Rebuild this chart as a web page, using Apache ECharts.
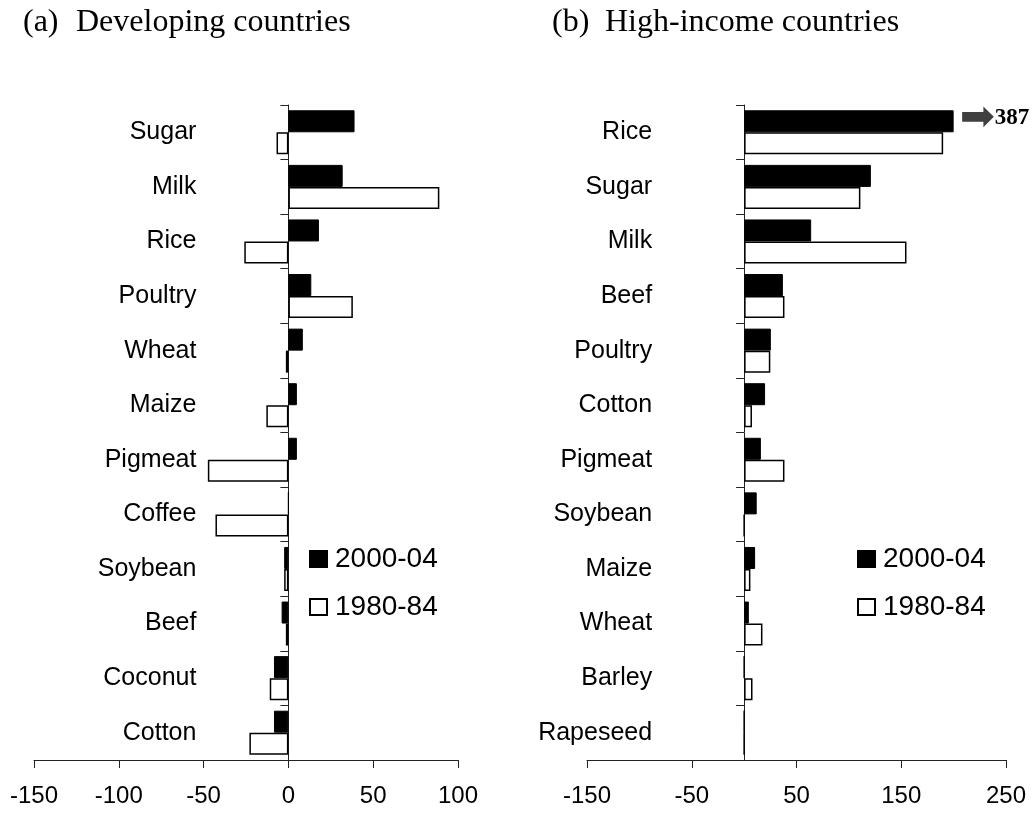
<!DOCTYPE html>
<html>
<head>
<meta charset="utf-8">
<script src="https://cdn.jsdelivr.net/npm/echarts@6/dist/echarts.min.js"></script>
<style>
html,body{margin:0;padding:0;background:#fff;}
#chart{width:1034px;height:813px;}
</style>
</head>
<body>
<div id="chart"></div>
<script>
// ---- Data ----
const seriesNames = ['2000-04', '1980-84'];

const devCategories = ['Sugar','Milk','Rice','Poultry','Wheat','Maize','Pigmeat','Coffee','Soybean','Beef','Coconut','Cotton'];
const dev2000 = [39, 32, 18, 13.5, 8.5, 5, 5, 0, -2.5, -4, -8.5, -8.5];
const dev1980 = [-7, 89, -26, 38, -1.5, -13, -47.5, -43, -2.5, -1.5, -11, -23];

const hiCategories = ['Rice','Sugar','Milk','Beef','Poultry','Cotton','Pigmeat','Soybean','Maize','Wheat','Barley','Rapeseed'];
const hi2000 = [387, 121, 64, 37, 25.5, 20, 16, 12, 10.5, 4.5, 0, 0];
const hi1980 = [190, 111, 155, 38.5, 25, 7.5, 38.5, 0, 6, 17.5, 8, 0];
const hiCap = 200; // bars beyond this are drawn truncated with an arrow and the true value

const devTicks = {min: -150, max: 100, interval: 50};
const hiTicks = {min: -150, max: 250, interval: 100};

// ---- Layout ----
const W = 1034;
const grids = [
  {left: 34, right: 576, top: 105, bottom: 53},
  {left: 587, right: 28, top: 105, bottom: 53}
];

// ---- Chart ----
const sans = 'Liberation Sans, Arial, sans-serif';
const serif = 'Liberation Serif, Times New Roman, serif';
const chart = echarts.init(document.getElementById('chart'), null, {renderer: 'canvas'});

function zeroOffset(g, t) {
  const width = W - g.left - g.right;
  return -width * (0 - t.min) / (t.max - t.min);
}

function xAxisFor(idx, t) {
  return {
    type: 'value', gridIndex: idx, min: t.min, max: t.max, interval: t.interval,
    axisLine: {show: true, lineStyle: {color: '#222', width: 1}},
    axisTick: {show: true, length: 8, lineStyle: {color: '#222', width: 1}},
    axisLabel: {fontSize: 24, color: '#000', fontFamily: sans, margin: 24},
    splitLine: {show: false}
  };
}
function yAxisFor(idx, cats, t) {
  return {
    type: 'category', gridIndex: idx, data: cats, inverse: true,
    position: 'left', offset: zeroOffset(grids[idx], t),
    axisLine: {show: true, onZero: false, lineStyle: {color: '#222', width: 1}},
    axisTick: {show: true, length: 8, alignWithLabel: false, lineStyle: {color: '#222', width: 1}},
    axisLabel: {fontSize: 25, color: '#000', fontFamily: sans, margin: 92}
  };
}
const blackStyle = {color: '#000', borderColor: '#000', borderWidth: 1};
const whiteStyle = {color: '#fff', borderColor: '#000', borderWidth: 1.5};

const hi2000Data = hi2000.map(v => ({value: Math.min(v, hiCap), actual: v}));
const titleStyle = {fontFamily: serif, fontSize: 32, fontWeight: 'normal', color: '#000'};
const legendText = {fontSize: 28, fontFamily: sans, color: '#000', lineHeight: 28, padding: [0,0,0,3]};

const option = {
  backgroundColor: '#fff',
  animation: false,
  title: [
    {text: '(a)', left: 23, top: 7, padding: 0, textStyle: titleStyle},
    {text: 'Developing countries', left: 76, top: 7, padding: 0, textStyle: titleStyle},
    {text: '(b)', left: 552, top: 7, padding: 0, textStyle: titleStyle},
    {text: 'High-income countries', left: 605, top: 7, padding: 0, textStyle: titleStyle}
  ],
  legend: [
    {orient: 'vertical', left: 309, top: 545, padding: 0, itemWidth: 17, itemHeight: 16, itemGap: 20, icon: 'rect',
     data: seriesNames, textStyle: legendText},
    {orient: 'vertical', left: 857, top: 545, padding: 0, itemWidth: 17, itemHeight: 16, itemGap: 20, icon: 'rect',
     data: seriesNames, textStyle: legendText}
  ],
  grid: grids.map(g => Object.assign({containLabel: false, outerBoundsMode: 'none'}, g)),
  xAxis: [xAxisFor(0, devTicks), xAxisFor(1, hiTicks)],
  yAxis: [yAxisFor(0, devCategories, devTicks), yAxisFor(1, hiCategories, hiTicks)],
  series: [
    {name: seriesNames[0], type: 'bar', xAxisIndex: 0, yAxisIndex: 0, data: dev2000,
     barWidth: 22, barGap: '0%', itemStyle: blackStyle},
    {name: seriesNames[1], type: 'bar', xAxisIndex: 0, yAxisIndex: 0, data: dev1980,
     barWidth: 22, barGap: '0%', itemStyle: whiteStyle},
    {name: seriesNames[0], type: 'bar', xAxisIndex: 1, yAxisIndex: 1, data: hi2000Data,
     barWidth: 22, barGap: '0%', itemStyle: blackStyle,
     label: {show: true, position: 'right', distance: 6,
       formatter: p => p.data.actual > hiCap ? '{a|➡}{b|' + p.data.actual + '}' : '',
       rich: {
         a: {fontFamily: 'DejaVu Sans', fontSize: 42, color: '#404040', padding: [0, 0, 4, 0]},
         b: {fontFamily: serif, fontWeight: 'bold', fontSize: 23, color: '#000', padding: [0, 0, 6, 0]}
       }}},
    {name: seriesNames[1], type: 'bar', xAxisIndex: 1, yAxisIndex: 1, data: hi1980,
     barWidth: 22, barGap: '0%', itemStyle: whiteStyle}
  ]
};
chart.setOption(option);
</script>
</body>
</html>
